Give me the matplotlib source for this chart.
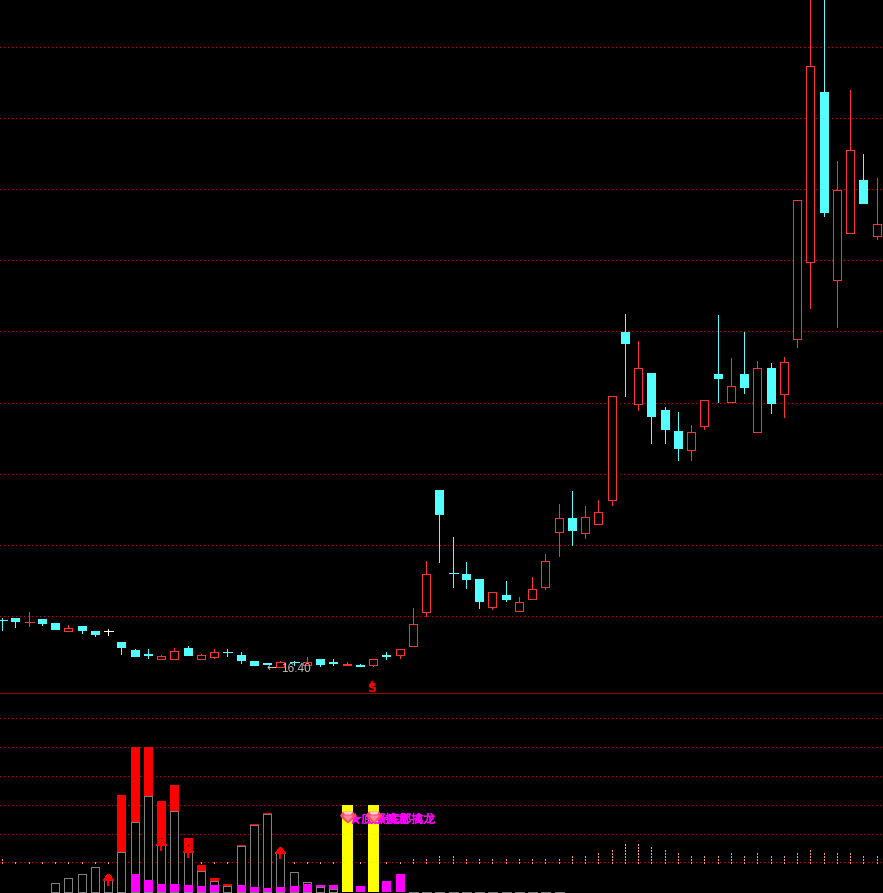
import matplotlib
matplotlib.use('Agg')
import matplotlib.pyplot as plt
import matplotlib.patheffects as pe
import numpy as np

plt.rcParams['font.family'] = ['Noto Sans CJK SC', 'DejaVu Sans']

W, H, SPLIT = 883, 893, 693

# 所有数值都是从图上读出来的，单位是屏幕纵坐标（越小价格越高）
body_top = [620, 618, 622, 619, 623, 628, 626, 631, 631, 642, 650, 654, 656, 651, 648, 655, 652,
            652, 655, 661, 663, 662, 662, 662, 659, 662, 664, 665, 659, 655, 649, 624, 574, 490,
            573, 574, 579, 592, 595, 602, 589, 561, 518, 518, 517, 512, 396, 332, 368, 373, 410,
            431, 432, 400, 374, 386, 374, 368, 368, 362, 200, 66, 92, 190, 150, 180, 224]
body_bot = [621, 622, 623, 624, 630, 631, 631, 635, 632, 648, 657, 656, 659, 659, 656, 659, 657,
            653, 661, 666, 665, 667, 663, 665, 665, 664, 666, 667, 665, 657, 655, 646, 612, 515,
            574, 580, 602, 607, 600, 611, 599, 587, 532, 531, 533, 524, 500, 344, 404, 417, 430,
            449, 450, 426, 379, 402, 388, 432, 404, 394, 339, 262, 213, 280, 233, 204, 236]
highs = [618, 618, 612, 619, 623, 625, 626, 631, 629, 642, 649, 649, 655, 648, 646, 654, 649,
         649, 652, 661, 663, 661, 661, 657, 659, 659, 662, 664, 659, 652, 649, 608, 561, 490,
         537, 562, 579, 592, 581, 597, 577, 554, 504, 491, 506, 500, 396, 314, 341, 373, 407,
         412, 425, 400, 315, 358, 332, 361, 363, 357, 200, -5, -5, 161, 90, 154, 178]
lows = [630, 627, 626, 625, 630, 631, 633, 636, 635, 654, 657, 658, 659, 659, 656, 659, 658,
        656, 663, 666, 665, 667, 665, 665, 666, 665, 666, 667, 666, 659, 658, 646, 616, 562,
        587, 588, 608, 609, 601, 611, 599, 589, 556, 545, 538, 524, 505, 396, 410, 443, 443,
        460, 460, 429, 402, 402, 393, 432, 413, 417, 347, 308, 216, 327, 233, 204, 239]
colors_k = ['c', 'c', 'r', 'c', 'c', 'r', 'c', 'c', 'w', 'c', 'c', 'c', 'r', 'r', 'c', 'r', 'r',
            'c', 'c', 'c', 'c', 'r', 'c', 'r', 'c', 'c', 'R', 'c', 'r', 'c', 'r', 'r', 'r', 'c',
            'c', 'c', 'c', 'r', 'c', 'r', 'r', 'r', 'r', 'c', 'r', 'r', 'r', 'c', 'r', 'c', 'c',
            'c', 'r', 'r', 'c', 'r', 'c', 'r', 'c', 'r', 'r', 'r', 'c', 'r', 'r', 'c', 'r']

grid_main = [47, 118, 189, 260, 331, 403, 474, 545, 616]
grid_sub = [718, 747, 776, 805, 834, 862]

# 下方副图
gray_idx = [4, 5, 6, 7, 8, 9, 10, 11, 12, 13, 14, 15, 16, 17, 18, 19, 20, 21, 22, 23]
gray_top = [883, 878, 874, 867, 880, 852, 822, 796, 845, 811, 852, 871, 881, 886, 846, 825, 814, 853, 872, 882]
red_idx = [9, 10, 11, 12, 13, 14, 15, 16, 17, 18, 19, 20]
red_top = [795, 747, 747, 801, 785, 838, 865, 878, 884, 845, 824, 813]
mag_idx = [9, 10, 11, 12, 13, 14, 15, 16, 18, 19, 20, 21, 22, 23, 24, 25, 27, 29, 30]
mag_top = [892, 874, 880, 884, 884, 885, 886, 885, 885, 887, 888, 887, 886, 884, 885, 885, 886, 881, 874]
low_gray_idx = [24, 25]
low_gray_top = [887, 889]
yellow_idx = [26, 28]
yellow_top = [805, 805]
flat_idx = list(range(31, 43))
arrow_idx = [8, 12, 14, 21]
arrow_tip = [874, 839, 846, 847]
gem_idx = [26, 28]
label_idx = [26, 28]

dot_top = [858, 860, 860, 861, 861, 862, 862, 862, 862, 862, 862, 862, 862, 862, 862, 862, 862,
           862, 862, 862, 862, 862, 862, 862, 862, 862, 862, 862, 862, 861, 860, 859, 857, 855,
           856, 857, 858, 858, 859, 859, 859, 859, 857, 856, 854, 851, 848, 844, 842, 847, 850,
           853, 854, 854, 854, 853, 854, 853, 856, 855, 852, 849, 852, 853, 853, 855, 856]

RED = '#ff3232'
CYAN = '#54ffff'
PX = 72 / 100  # 1像素的线宽


def col(i):
    # K线序号换算成屏幕列
    return np.round(2.2 + 13.25 * np.asarray(i))


def draw_candles(ax):
    for i in range(len(body_top)):
        c = {'c': CYAN, 'r': RED, 'R': RED, 'w': 'white'}[colors_k[i]]
        x = col(i)
        top, bot = body_top[i], body_bot[i]
        ax.vlines(x, highs[i], top, color=c, lw=PX, zorder=3, antialiased=False)
        ax.vlines(x, bot, lows[i], color=c, lw=PX, zorder=3, antialiased=False)
        if bot - top <= 1:
            # 十字星
            ax.hlines(top, x - 4, x + 5, color=c, lw=PX, zorder=3, antialiased=False)
        elif colors_k[i] == 'r':
            ax.bar(x, bot - top, bottom=top, width=8, facecolor='black', edgecolor=c, lw=PX, zorder=4,
                   antialiased=False)
        else:
            ax.bar(x + 0.5, bot - top, bottom=top, width=9, color=c, lw=0, zorder=4, antialiased=False)


def draw_arrow(ax, i, tip):
    x = col(i) + 0.5
    ax.fill([x - 6.5, x, x + 6.5], [tip + 7, tip - 1.5, tip + 7], color='black', lw=0, zorder=6)
    ax.fill([x - 5.5, x, x + 5.5], [tip + 6.5, tip, tip + 6.5], color='#ff0000', lw=0, zorder=7,
            antialiased=False)
    ax.vlines(x - 0.5, tip + 6, tip + 12, color='#ff0000', lw=2 * PX, zorder=7, antialiased=False)


def draw_gem(ax, i, y, z):
    # 后画的宝石压在前一个文字上面
    x = col(i) + 1
    ax.fill([x - 8, x - 5, x + 5, x + 8, x + 6, x, x - 6], [y - 2, y - 6, y - 6, y - 2, y + 1, y + 6, y + 1],
            color='#ff4a68', lw=0, zorder=z)
    ax.fill([x - 5, x + 5, x], [y - 2, y - 2, y + 4], color='#ff8c9c', lw=0, zorder=z + 0.1)
    ax.fill([x - 5, x + 5, x + 3, x - 3], [y - 6, y - 6, y - 3, y - 3], color='#ffd0d8', lw=0, zorder=z + 0.1)


fig = plt.figure(figsize=(W / 100, H / 100), dpi=100, facecolor='black')

ax = fig.add_axes([0, 1 - SPLIT / H, 1, SPLIT / H], facecolor='black')
ax.set_xlim(0, W)
ax.set_ylim(SPLIT, 0)
ax.axis('off')

for y in grid_main:
    ax.axhline(y, color='#d00000', lw=PX, ls=(0, (1, 3.33)), zorder=1, antialiased=False)
draw_candles(ax)

ax.text(266, 667.5, '←', color='#c0c0c0', fontsize=8.5, ha='left', va='center', family='DejaVu Sans', zorder=6)
ax.text(281, 669, '16.40', color='#c0c0c0', fontsize=8.5, ha='left', va='center', family='Liberation Sans', zorder=6)
ax.plot([372], [682.5], marker='^', ms=4, color='#ff0000', mew=0, zorder=6)
ax.text(372, 688.5, 'S', color='#ff0000', fontsize=9, fontweight='bold', ha='center', va='center',
        family='DejaVu Sans', zorder=6)

sub = fig.add_axes([0, 0, 1, 1 - SPLIT / H], facecolor='black')
sub.set_xlim(0, W)
sub.set_ylim(H, SPLIT)
sub.axis('off')
sub.axhline(693, color='#a00000', lw=PX, zorder=1, antialiased=False)

for y in grid_sub:
    sub.axhline(y, color='#d00000', lw=PX, ls=(0, (1, 3.33)), zorder=1, antialiased=False)

bottom = 892
sub.bar(col(red_idx) + 0.5, [bottom - t for t in red_top], bottom=red_top, width=9, color='#ff0000', lw=0,
        zorder=2, antialiased=False)
sub.bar(col(gray_idx), [bottom - t for t in gray_top], bottom=gray_top, width=8, facecolor='black',
        edgecolor='#808080', lw=PX, zorder=3, antialiased=False)
sub.bar(col(mag_idx) + 0.5, [bottom - t for t in mag_top], bottom=mag_top, width=9, color='#ff00ff', lw=0,
        zorder=4, antialiased=False)
sub.bar(col(low_gray_idx), [bottom - t for t in low_gray_top], bottom=low_gray_top, width=8, facecolor='black',
        edgecolor='#808080', lw=PX, zorder=5, antialiased=False)
sub.bar(col(yellow_idx) + 0.5, [bottom - t for t in yellow_top], bottom=yellow_top, width=11, color='#ffff00',
        lw=0, zorder=4, antialiased=False)
sub.hlines([bottom] * len(flat_idx), col(flat_idx) - 4, col(flat_idx) + 5, color='#808080', lw=PX, zorder=3,
           antialiased=False)

for i, t in enumerate(dot_top):
    sub.vlines(col(i), 863, t, color='#ff9090', lw=PX, ls=(0, (1.5, 1.5)), zorder=2, antialiased=False)

for i, tip in zip(arrow_idx, arrow_tip):
    draw_arrow(sub, i, tip)

for i in gem_idx:
    draw_gem(sub, i, 817.5, 11 + i)
for i in label_idx:
    sub.text(col(i) + 2.5, 819.5, '★底部擒龙', color='#ff00ff', fontsize=8.6, ha='left', va='center',
             family=['Noto Sans CJK SC', 'DejaVu Sans'], zorder=10 + i,
             path_effects=[pe.withStroke(linewidth=0.4, foreground='#ff00ff')])

fig.savefig('out.png', dpi=100, facecolor='black')
